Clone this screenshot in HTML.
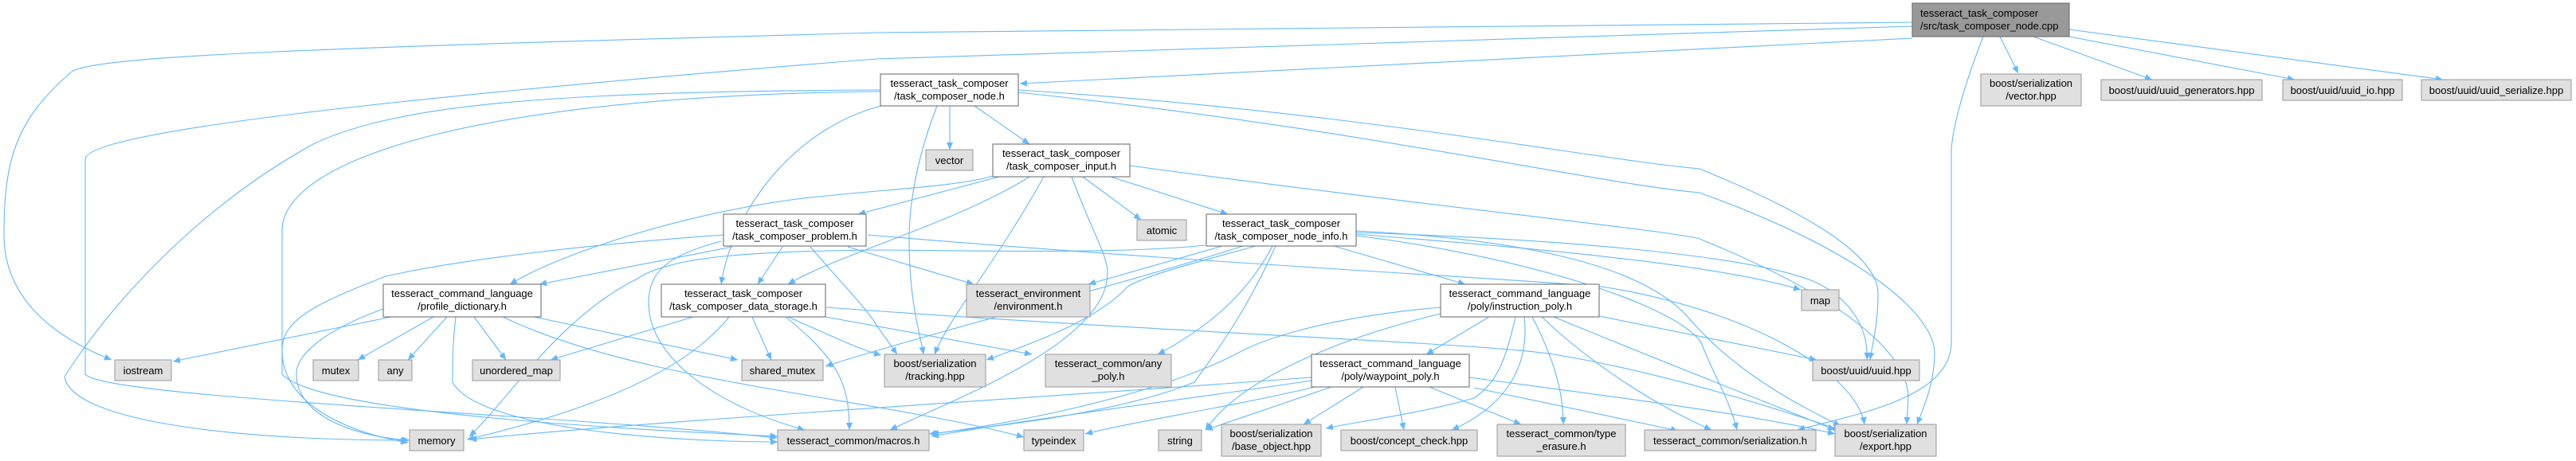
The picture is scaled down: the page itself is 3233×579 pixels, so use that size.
<!DOCTYPE html>
<html><head><meta charset="utf-8"><style>
html,body{margin:0;padding:0;background:#fff;width:3233px;height:579px;overflow:hidden}
svg{display:block}
text{font-family:"Liberation Sans",Arial,sans-serif;font-size:13px;fill:#000}
.n{fill:#fff;stroke:#666;stroke-width:1}
.g{fill:#e0e0e0;stroke:#999;stroke-width:1}
.r{fill:#999;stroke:#666;stroke-width:1}
.e{fill:none;stroke:#63b8ff;stroke-width:1.1;marker-end:url(#a)}
</style></head><body>
<svg width="3233" height="579" viewBox="0 0 3233 579" xmlns="http://www.w3.org/2000/svg">
<defs><marker id="a" viewBox="0 0 10 10" refX="10" refY="5" markerWidth="10" markerHeight="9" markerUnits="userSpaceOnUse" orient="auto"><path d="M0,0.5 L10,5 L0,9.5z" fill="#63b8ff"/></marker></defs>
<g>
<!-- root edges -->
<path class="e" d="M2400,28 L1100,41 C400,60 120,70 90,90 C20,150 5,200 5,295 C5,370 60,420 140,452"/>
<path class="e" d="M2400,33 L1100,74 C400,130 107,170 107,200 L107,470 C130,500 700,520 975,550"/>
<path class="e" d="M2400,48 L1280,105"/>
<path class="e" d="M2489,46 C2460,120 2449,170 2449,192 L2449,430 C2449,500 2330,520 2256,540"/>
<path class="e" d="M2510,46 L2533,92"/>
<path class="e" d="M2552,46 L2701,100"/>
<path class="e" d="M2597,46 L2880,100"/>
<path class="e" d="M2597,37 L3066,100"/>
<!-- node.h -->
<path class="e" d="M1105,113 C700,115 500,130 393,181 C250,260 140,380 81,473 C90,530 300,553 512,553"/>
<path class="e" d="M1105,115 C600,120 354,200 354,290 L354,470 C400,520 800,540 976,548"/>
<path class="e" d="M1192,133 L1192,188"/>
<path class="e" d="M1223,133 L1292,181"/>
<path class="e" d="M1176,133 C1150,200 1141,258 1141,300 C1141,380 1155,420 1159,445"/>
<path class="e" d="M1106,133 C1000,160 920,260 905,357"/>
<path class="e" d="M1278,113 C1700,140 2000,200 2133,212 C2300,280 2357,330 2357,369 C2357,410 2350,430 2347,452"/>
<path class="e" d="M1278,116 C1700,160 2000,230 2133,242 C2350,320 2428,400 2428,443 C2428,480 2415,510 2406,533"/>
<!-- input.h -->
<path class="e" d="M1254,222 L1077,269"/>
<path class="e" d="M1246,221 C1200,235 1100,238 1000,250 C850,270 700,320 640,357"/>
<path class="e" d="M1292,222 C1200,280 1050,320 989,357"/>
<path class="e" d="M1310,222 C1250,330 1190,400 1173,445"/>
<path class="e" d="M1345,222 C1370,290 1390,320 1390,343 C1390,430 1200,500 1117,540"/>
<path class="e" d="M1359,222 L1432,276"/>
<path class="e" d="M1394,222 L1541,269"/>
<path class="e" d="M1418,208 C1800,260 2100,290 2133,300 C2330,380 2395,450 2395,500 L2393,533"/>
<!-- problem.h -->
<path class="e" d="M919,310 L677,357"/>
<path class="e" d="M982,310 L951,357"/>
<path class="e" d="M908,295 C700,310 560,330 484,347 C400,380 354,400 354,440 C354,500 420,540 512,556"/>
<path class="e" d="M905,303 C840,320 814,340 814,380 C814,450 900,510 1010,540"/>
<path class="e" d="M1017,310 C1060,360 1090,390 1101,410 L1126,445"/>
<path class="e" d="M1064,310 L1222,357"/>
<path class="e" d="M1089,295 C1500,330 1900,350 2010,360 C2200,390 2330,470 2340,533"/>
<!-- data_storage -->
<path class="e" d="M870,398 L691,452"/>
<path class="e" d="M944,398 L968,452"/>
<path class="e" d="M915,398 C850,480 700,525 586,552"/>
<path class="e" d="M986,398 C1050,450 1066,480 1066,540"/>
<path class="e" d="M989,398 C1040,420 1080,440 1106,446"/>
<path class="e" d="M1036,398 L1295,445"/>
<path class="e" d="M1037,386 C1500,420 1850,430 1950,445 C2100,470 2250,520 2310,540"/>
<!-- profile_dict -->
<path class="e" d="M491,398 L217,454"/>
<path class="e" d="M544,398 L449,452"/>
<path class="e" d="M561,398 L512,452"/>
<path class="e" d="M595,398 L635,452"/>
<path class="e" d="M670,398 L926,452"/>
<path class="e" d="M481,388 C420,410 372,440 372,470 C372,520 440,548 514,553"/>
<path class="e" d="M572,398 C568,430 568,460 568,480 C600,540 850,555 976,555"/>
<path class="e" d="M631,398 C800,480 1100,500 1285,549"/>
<!-- node_info -->
<path class="e" d="M1534,309 L1366,357"/>
<path class="e" d="M1576,309 C1500,330 1440,345 1415,360 C1380,400 1300,430 1238,452"/>
<path class="e" d="M1597,309 C1560,380 1500,420 1453,445"/>
<path class="e" d="M1601,309 C1560,400 1520,450 1499,480 C1400,520 1250,535 1166,545"/>
<path class="e" d="M1513,308 C1400,320 1200,314 1094,314 C950,316 842,321 800,350 C700,400 640,500 589,548"/>
<path class="e" d="M1674,309 L1839,357"/>
<path class="e" d="M1702,294 C1900,310 2150,330 2260,364"/>
<path class="e" d="M1702,292 C1950,300 2200,320 2280,355 C2330,380 2345,420 2343,452"/>
<path class="e" d="M1702,290 C1900,300 2060,330 2120,400 C2180,470 2260,510 2310,535"/>
<path class="e" d="M1702,296 C1900,320 2100,380 2135,430 C2150,470 2170,500 2180,540"/>
<path class="e" d="M1560,309 C1400,360 1160,420 1036,460"/>
<!-- instruction_poly -->
<path class="e" d="M1869,398 L1790,445"/>
<path class="e" d="M1808,394 C1700,420 1560,470 1513,540"/>
<path class="e" d="M1808,386 C1650,400 1580,430 1560,440 C1450,500 1250,535 1169,545"/>
<path class="e" d="M1902,398 C1890,450 1880,480 1850,500 C1780,520 1700,530 1664,538"/>
<path class="e" d="M1913,398 C1920,460 1890,510 1822,540"/>
<path class="e" d="M1923,398 C1955,460 1962,500 1962,533"/>
<path class="e" d="M1935,398 C2000,460 2080,510 2148,540"/>
<path class="e" d="M1950,398 C2100,460 2230,510 2303,540"/>
<path class="e" d="M2007,397 L2280,452"/>
<!-- waypoint_poly -->
<path class="e" d="M1646,474 C1300,500 800,530 589,552"/>
<path class="e" d="M1646,478 C1500,500 1300,525 1169,548"/>
<path class="e" d="M1650,486 C1550,510 1420,530 1362,545"/>
<path class="e" d="M1671,486 L1513,540"/>
<path class="e" d="M1711,486 L1636,533"/>
<path class="e" d="M1751,486 L1762,540"/>
<path class="e" d="M1794,486 L1909,533"/>
<path class="e" d="M1850,487 L2106,541"/>
<path class="e" d="M1844,474 C2000,495 2200,520 2303,545"/>
</g>
<!-- nodes -->
<rect class="r" x="2400" y="4" width="197" height="42"/>
<text x="2410" y="21">tesseract_task_composer</text><text x="2410" y="37">/src/task_composer_node.cpp</text>

<rect class="n" x="1105" y="93" width="173" height="40"/>
<text x="1191.5" y="109" text-anchor="middle">tesseract_task_composer</text><text x="1191.5" y="125" text-anchor="middle">/task_composer_node.h</text>

<rect class="g" x="1162" y="188" width="59" height="26"/><text x="1191.5" y="206" text-anchor="middle">vector</text>

<rect class="n" x="1246" y="181" width="172" height="41"/>
<text x="1332" y="197" text-anchor="middle">tesseract_task_composer</text><text x="1332" y="213" text-anchor="middle">/task_composer_input.h</text>

<rect class="g" x="1427" y="276" width="62" height="26"/><text x="1458" y="294" text-anchor="middle">atomic</text>

<rect class="n" x="1514" y="269" width="188" height="40"/>
<text x="1608" y="285" text-anchor="middle">tesseract_task_composer</text><text x="1608" y="301" text-anchor="middle">/task_composer_node_info.h</text>

<rect class="n" x="908" y="269" width="179" height="40"/>
<text x="997.5" y="285" text-anchor="middle">tesseract_task_composer</text><text x="997.5" y="301" text-anchor="middle">/task_composer_problem.h</text>

<rect class="g" x="1213" y="357" width="155" height="41"/>
<text x="1290.5" y="373" text-anchor="middle">tesseract_environment</text><text x="1290.5" y="389" text-anchor="middle">/environment.h</text>

<rect class="n" x="481" y="357" width="198" height="41"/>
<text x="580" y="373" text-anchor="middle">tesseract_command_language</text><text x="580" y="389" text-anchor="middle">/profile_dictionary.h</text>

<rect class="n" x="830" y="357" width="206" height="41"/>
<text x="933" y="373" text-anchor="middle">tesseract_task_composer</text><text x="933" y="389" text-anchor="middle">/task_composer_data_storage.h</text>

<rect class="n" x="1808" y="357" width="199" height="41"/>
<text x="1907.5" y="373" text-anchor="middle">tesseract_command_language</text><text x="1907.5" y="389" text-anchor="middle">/poly/instruction_poly.h</text>

<rect class="g" x="1110" y="445" width="127" height="41"/>
<text x="1173.5" y="461" text-anchor="middle">boost/serialization</text><text x="1173.5" y="477" text-anchor="middle">/tracking.hpp</text>

<rect class="g" x="1312" y="445" width="158" height="41"/>
<text x="1391" y="461" text-anchor="middle">tesseract_common/any</text><text x="1391" y="477" text-anchor="middle">_poly.h</text>

<rect class="n" x="1646" y="445" width="198" height="41"/>
<text x="1745" y="461" text-anchor="middle">tesseract_command_language</text><text x="1745" y="477" text-anchor="middle">/poly/waypoint_poly.h</text>

<rect class="g" x="144" y="452" width="71" height="26"/><text x="179.5" y="470" text-anchor="middle">iostream</text>
<rect class="g" x="393" y="452" width="57" height="26"/><text x="421.5" y="470" text-anchor="middle">mutex</text>
<rect class="g" x="475" y="452" width="42" height="26"/><text x="496" y="470" text-anchor="middle">any</text>
<rect class="g" x="593" y="452" width="110" height="26"/><text x="648" y="470" text-anchor="middle">unordered_map</text>
<rect class="g" x="931" y="452" width="102" height="26"/><text x="982" y="470" text-anchor="middle">shared_mutex</text>
<rect class="g" x="514" y="540" width="68" height="26"/><text x="548" y="558" text-anchor="middle">memory</text>
<rect class="g" x="976" y="540" width="190" height="26"/><text x="1071" y="558" text-anchor="middle">tesseract_common/macros.h</text>
<rect class="g" x="1285" y="540" width="75" height="26"/><text x="1322.5" y="558" text-anchor="middle">typeindex</text>
<rect class="g" x="1454" y="540" width="54" height="26"/><text x="1481" y="558" text-anchor="middle">string</text>
<rect class="g" x="1533" y="533" width="125" height="40"/>
<text x="1595.5" y="549" text-anchor="middle">boost/serialization</text><text x="1595.5" y="565" text-anchor="middle">/base_object.hpp</text>
<rect class="g" x="1683" y="540" width="171" height="26"/><text x="1768.5" y="558" text-anchor="middle">boost/concept_check.hpp</text>
<rect class="g" x="1879" y="533" width="161" height="40"/>
<text x="1959.5" y="549" text-anchor="middle">tesseract_common/type</text><text x="1959.5" y="565" text-anchor="middle">_erasure.h</text>
<rect class="g" x="2064" y="540" width="215" height="26"/><text x="2171.5" y="558" text-anchor="middle">tesseract_common/serialization.h</text>
<rect class="g" x="2303" y="533" width="127" height="40"/>
<text x="2366.5" y="549" text-anchor="middle">boost/serialization</text><text x="2366.5" y="565" text-anchor="middle">/export.hpp</text>
<rect class="g" x="2486" y="93" width="126" height="40"/>
<text x="2549" y="109" text-anchor="middle">boost/serialization</text><text x="2549" y="125" text-anchor="middle">/vector.hpp</text>
<rect class="g" x="2637" y="100" width="202" height="26"/><text x="2738" y="118" text-anchor="middle">boost/uuid/uuid_generators.hpp</text>
<rect class="g" x="2865" y="100" width="150" height="26"/><text x="2940" y="118" text-anchor="middle">boost/uuid/uuid_io.hpp</text>
<rect class="g" x="3039" y="100" width="188" height="26"/><text x="3133" y="118" text-anchor="middle">boost/uuid/uuid_serialize.hpp</text>
<rect class="g" x="2261" y="364" width="47" height="26"/><text x="2284.5" y="382" text-anchor="middle">map</text>
<rect class="g" x="2275" y="452" width="134" height="26"/><text x="2342" y="470" text-anchor="middle">boost/uuid/uuid.hpp</text>
</svg>
</body></html>
